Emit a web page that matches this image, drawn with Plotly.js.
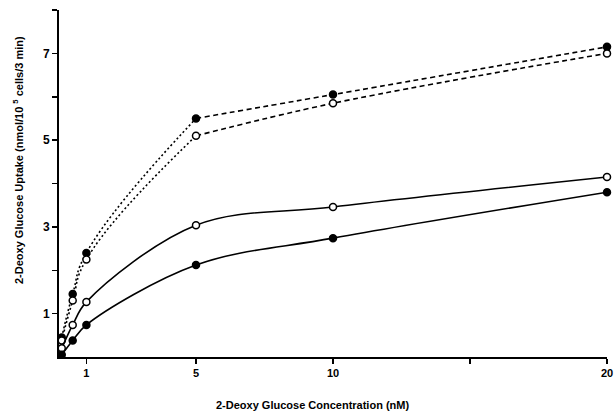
<!DOCTYPE html>
<html>
<head>
<meta charset="utf-8">
<script src="https://cdn.plot.ly/plotly-3.0.1.min.js"></script>
<style>html,body{margin:0;padding:0;background:#fff;}#chart{width:614px;height:415px;}</style>
</head>
<body>
<div id="chart"></div>
<script>
// Concentrations (nM)
const conc = [0.1, 0.5, 1, 5, 10, 20];
// Uptake series (nmol/10^5 cells/3 min)
const filledDotted = [0.45, 1.45, 2.40, 5.50, 6.05, 7.15];
const openDotted   = [0.38, 1.30, 2.25, 5.10, 5.85, 7.00];
const openSolid    = [0.20, 0.74, 1.27, 3.04, 3.46, 4.15];
const filledSolid  = [0.05, 0.38, 0.74, 2.12, 2.74, 3.80];
// Tick labels
const xTickVals = [1, 5, 10, 15, 20];
const xTickText = ["1", "5", "10", "", "20"];
const yTickVals = [1, 2, 3, 4, 5, 6, 7, 8];
const yTickText = ["1", "", "3", "", "5", "", "7", ""];
const xTitle = '2-Deoxy Glucose Concentration (nM)';
const yTitle = '2-Deoxy Glucose Uptake (nmol/10 <sup>5</sup> cells/3 min)';

const splitAt = 3; // index of x = 5: dotted below, dashed above
function lowPart(a){ return a.slice(0, splitAt + 1); }
function highPart(a){ return a.slice(splitAt); }

const FONT = 'Liberation Sans, Arial, sans-serif';
const traces = [];
function addSeries(y, filled, dashed){
  if (dashed) {
    traces.push({x: lowPart(conc), y: lowPart(y), mode: 'lines', line: {color: '#000', width: 1.6, dash: '2px,2.5px', shape: 'spline', smoothing: 1.3}, hoverinfo: 'skip'});
    traces.push({x: highPart(conc), y: highPart(y), mode: 'lines', line: {color: '#000', width: 1.6, dash: '5px,3.5px', shape: 'spline', smoothing: 1}, hoverinfo: 'skip'});
  } else {
    traces.push({x: conc, y: y, mode: 'lines', line: {color: '#000', width: 1.6, shape: 'spline', smoothing: 1}, hoverinfo: 'skip'});
  }
  traces.push({x: conc, y: y, mode: 'markers', cliponaxis: false,
    marker: {symbol: 'circle', size: 7, color: filled ? '#000' : '#fff', line: {color: '#000', width: 1.5}}});
}
addSeries(filledDotted, true, true);
addSeries(openDotted, false, true);
addSeries(openSolid, false, false);
addSeries(filledSolid, true, false);

const tickFont = {family: FONT, size: 11, color: '#000', weight: 'bold'};
const titleFont = {family: FONT, size: 11, color: '#000', weight: 'bold'};
const layout = {
  width: 614, height: 415,
  margin: {l: 59, r: 7, t: 10, b: 58},
  paper_bgcolor: '#fff', plot_bgcolor: '#fff',
  showlegend: false,
  font: {family: FONT, size: 11, color: '#000'},
  xaxis: {
    range: [0, 20], showgrid: false, zeroline: false,
    showline: true, linecolor: '#000', linewidth: 2,
    ticks: 'outside', ticklen: 5, tickwidth: 1.5, tickcolor: '#000',
    tickvals: xTickVals, ticktext: xTickText, tickfont: tickFont,
    automargin: false
  },
  yaxis: {
    range: [0, 8], showgrid: false, zeroline: false,
    showline: true, linecolor: '#000', linewidth: 2,
    ticks: 'outside', ticklen: 5, tickwidth: 1.5, tickcolor: '#000',
    tickvals: yTickVals, ticktext: yTickText, tickfont: {family: FONT, size: 12, color: '#000', weight: 'bold'},
    automargin: false
  },
  annotations: [
    {text: xTitle, xref: 'paper', yref: 'paper', x: (312 - 59) / 548, y: -(405 - 357) / 347,
     xanchor: 'center', yanchor: 'middle', showarrow: false, font: titleFont},
    {text: yTitle, xref: 'paper', yref: 'paper', x: -(59 - 18) / 548, y: (357 - 160) / 347,
     xanchor: 'center', yanchor: 'middle', textangle: -90, showarrow: false, font: titleFont}
  ]
};
Plotly.newPlot('chart', traces, layout, {displayModeBar: false, staticPlot: true});
</script>
</body>
</html>
